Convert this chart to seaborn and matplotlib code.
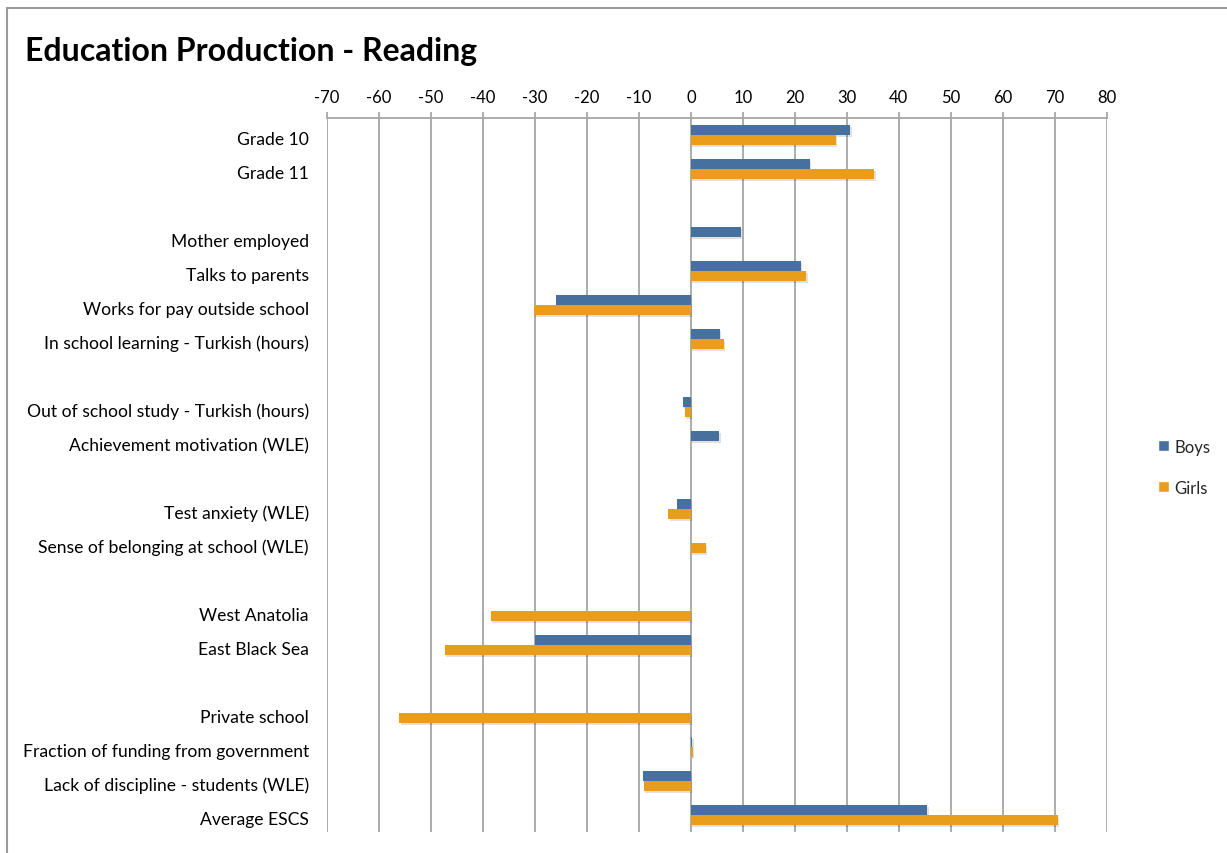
import numpy as np
import pandas as pd
import matplotlib
matplotlib.use("Agg")
import matplotlib.pyplot as plt
import matplotlib.patheffects as pe
import matplotlib.transforms as mtransforms
from matplotlib.patches import Rectangle, Patch
import seaborn as sns

categories = [
    "Grade 10", "Grade 11", " ",
    "Mother employed", "Talks to parents", "Works for pay outside school",
    "In school learning - Turkish (hours)", "  ",
    "Out of school study - Turkish (hours)", "Achievement motivation (WLE)", "   ",
    "Test anxiety (WLE)", "Sense of belonging at school (WLE)", "    ",
    "West Anatolia", "East Black Sea", "     ",
    "Private school", "Fraction of funding from government",
    "Lack of discipline - students (WLE)", "Average ESCS",
]
boys = [30.7, 22.9, None,
        9.6, 21.2, -26.0,
        5.6, None,
        -1.5, 5.5, None,
        -2.6, None, None,
        None, -29.9, None,
        None, 0.3,
        -9.2, 45.5]
girls = [27.9, 35.3, None,
         None, 22.2, -30.2,
         6.3, None,
         -1.1, None, None,
         -4.3, 2.9, None,
         -38.5, -47.3, None,
         -56.1, 0.4,
         -9.0, 70.6]
series = ["Boys", "Girls"]
xticks = list(range(-70, 81, 10))

BLUE = "#46719F"
ORANGE = "#E89E1A"
GRID = "#A6A6A6"

sns.set_theme(style="white")
plt.rcParams["font.family"] = ["Lato", "DejaVu Sans"]

df = pd.DataFrame({
    "category": categories * 2,
    "series": ["Boys"] * len(categories) + ["Girls"] * len(categories),
    "value": [np.nan if v is None else v for v in boys] + [np.nan if v is None else v for v in girls],
})

fig = plt.figure(figsize=(12.27, 8.54), dpi=100)
ax = fig.add_axes([327 / 1227, 1 - 833 / 854, (1106.6 - 327) / 1227, (833 - 119) / 854])

sns.barplot(data=df, y="category", x="value", hue="series", order=categories,
            hue_order=series, palette=[BLUE, ORANGE], orient="h", width=0.57,
            gap=0, errorbar=None, ax=ax, legend=False, linewidth=0, saturation=1)

for p in ax.patches:
    p.set_path_effects([pe.SimplePatchShadow(offset=(1.0, -1.5), alpha=0.12, shadow_rgbFace="black"),
                        pe.Normal()])

ax.set_xlim(-70, 80)
ax.set_ylim(len(categories) - 0.5, -0.5)
ax.set_xticks(xticks)
ax.set_xticklabels([str(t) for t in xticks])
ax.xaxis.tick_top()
ax.set_xlabel("")
ax.set_ylabel("")
ax.grid(axis="x", color=GRID, linewidth=1.3)
ax.grid(axis="y", visible=False)
ax.set_axisbelow(True)
for s in ["left", "right", "bottom"]:
    ax.spines[s].set_visible(False)
ax.spines["top"].set_color(GRID)
ax.spines["top"].set_linewidth(1.3)
ax.tick_params(axis="x", which="both", top=True, bottom=False, length=4, width=1.3,
               color=GRID, direction="out", pad=5, labelsize=12, labelcolor="black")
ax.tick_params(axis="y", length=0, pad=13, labelsize=12.6, labelcolor="black")

offset = mtransforms.ScaledTranslation(0, -2.5 / 100, fig.dpi_scale_trans)
for lbl in ax.get_yticklabels():
    lbl.set_transform(lbl.get_transform() + offset)

handles = [Patch(facecolor=BLUE, label="Boys"), Patch(facecolor=ORANGE, label="Girls")]
fig.legend(handles=handles, loc="center left", bbox_to_anchor=(1143 / 1227, 1 - 468 / 854),
           frameon=False, fontsize=12, handlelength=0.65, handleheight=0.65,
           handletextpad=0.35, labelspacing=1.5)

fig.text(25 / 1227, 1 - 52 / 854, "Education Production - Reading", fontsize=23,
         fontweight="bold", ha="left", va="center", color="black")

fig.patches.append(Rectangle((7 / 1227, -0.1), 1.2, 1.1 - 9 / 854, transform=fig.transFigure,
                             fill=False, edgecolor="#9A9A9A", linewidth=1.5))

fig.savefig("out.png", dpi=100)
